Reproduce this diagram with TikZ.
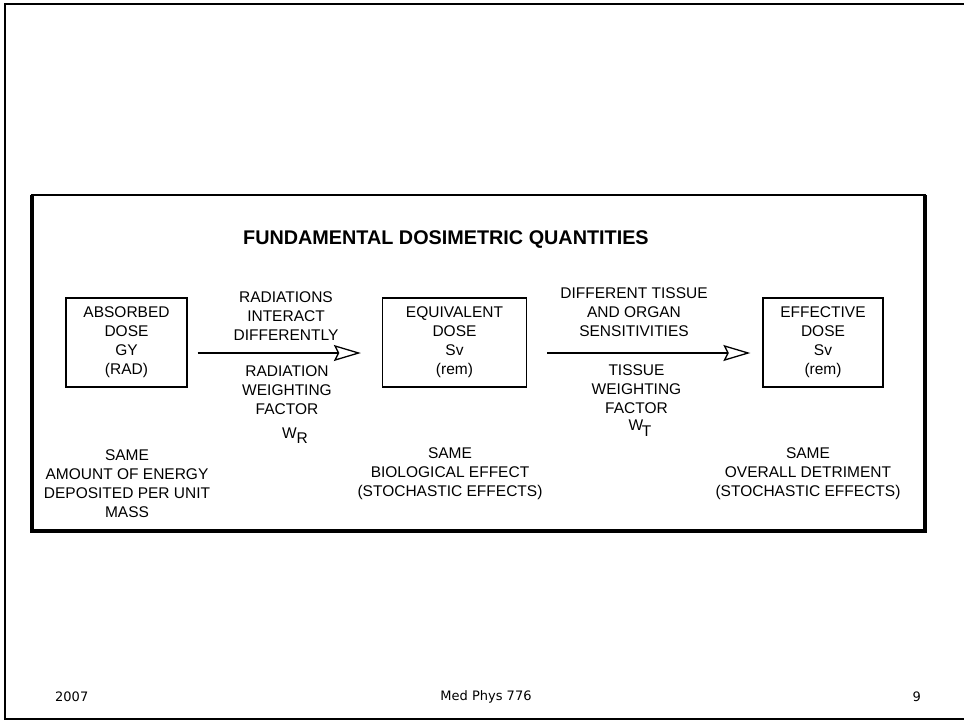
\documentclass[tikz,border=0pt]{standalone}
\usepackage{fontspec}
\setmainfont{Liberation Sans}
\newfontfamily\footfont{DejaVu Sans}
\usetikzlibrary{arrows.meta}
\tikzset{
  txt/.style={align=center,inner sep=0pt,font=\fontsize{15.5}{19}\selectfont},
  qbox/.style={txt,draw,line width=1.3pt,minimum width=121pt,minimum height=89pt},
  flow/.style={line width=2pt,-{Stealth[open,length=27pt,width=16pt,inset=4pt,line width=1.3pt]}},
  foot/.style={inner sep=0pt,font=\footfont\fontsize{13}{15}\selectfont},
}

\begin{document}
\begin{tikzpicture}[x=1pt,y=-1pt]
\useasboundingbox (0,0) rectangle (964,721);
\draw [line width=2pt] (5,4) rectangle (970,719);
\draw [line width=2.5pt] (32,195) rectangle (925,531);
\draw [line width=4pt] (32,195) -- (32,531) -- (925,531) -- (925,195);
\node (title) at (243,240) [anchor=west,inner sep=0pt,font=\fontsize{19.8}{22}\selectfont\bfseries] {FUNDAMENTAL DOSIMETRIC QUANTITIES};
\node (absorbed) at (126.5,342.5) [qbox] {ABSORBED\\DOSE\\GY\\(RAD)};
\node (equiv) at (454.5,342.5) [qbox,minimum width=144pt] {EQUIVALENT\\DOSE\\Sv\\(rem)};
\node (effect) at (823,342.5) [qbox,minimum width=120pt] {EFFECTIVE\\DOSE\\Sv\\(rem)};
\node (why1) at (286,316) [txt] {RADIATIONS\\INTERACT\\DIFFERENTLY};
\node (wfac1) at (287,390) [txt] {RADIATION\\WEIGHTING\\FACTOR};
\node (wr) at (295,435.7) [txt] {W\raisebox{-5pt}{R}};
\node (why2) at (634,312.5) [txt] {DIFFERENT TISSUE\\AND ORGAN\\SENSITIVITIES};
\node (wfac2) at (636.5,389) [txt] {TISSUE\\WEIGHTING\\FACTOR};
\node (wt) at (640,428) [txt] {W\kern-1.5pt\raisebox{-5.5pt}{T}};
\node (same1) at (127,483.5) [txt] {SAME\\AMOUNT OF ENERGY\\DEPOSITED PER UNIT\\MASS};
\node (same2) at (450,474) [txt] {SAME\\BIOLOGICAL EFFECT\\(STOCHASTIC EFFECTS)};
\node (same3) at (808,474) [txt] {SAME\\OVERALL DETRIMENT\\(STOCHASTIC EFFECTS)};
\draw [flow,shorten <=10pt,shorten >=21pt] ([yshift=-10.5pt]absorbed.east) -- ([yshift=-10.5pt]equiv.west);
\draw [flow,shorten <=20pt,shorten >=12pt] ([yshift=-10.5pt]equiv.east) -- ([yshift=-10.5pt]effect.west);
\node (year) at (55,697) [anchor=west,foot] {2007};
\node (course) at (486,697) [foot] {Med Phys 776};
\node (page) at (921,697) [anchor=east,foot] {9};
\end{tikzpicture}
\end{document}
